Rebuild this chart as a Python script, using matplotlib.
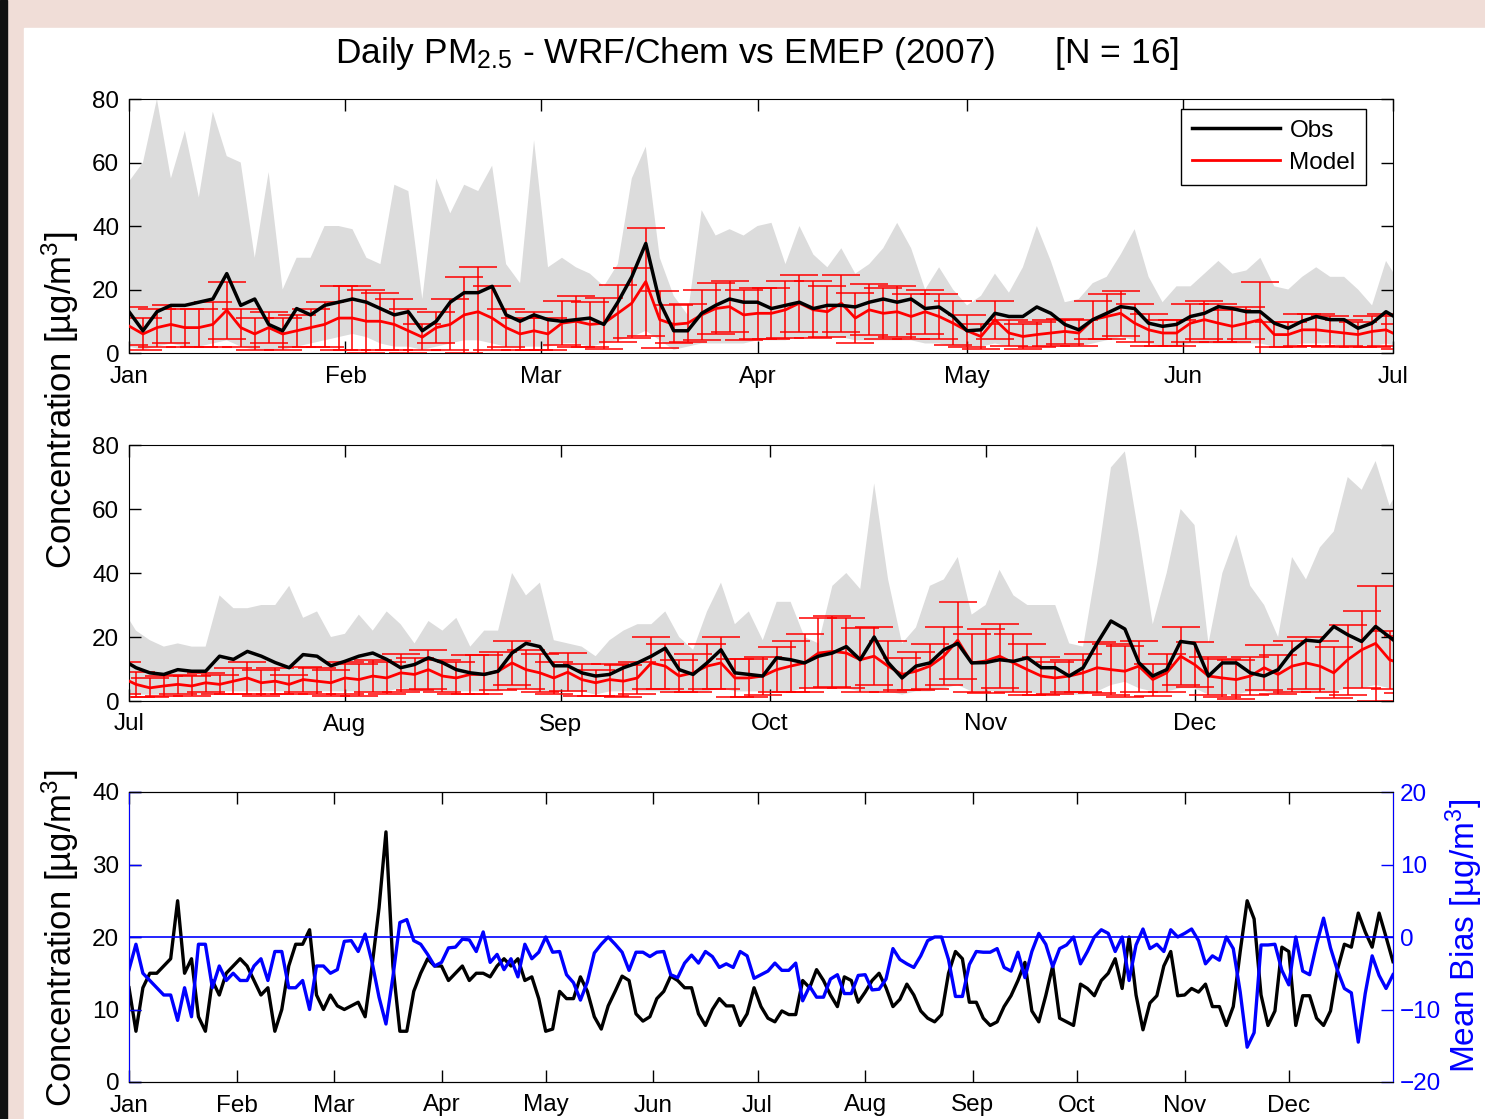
"""
Daily PM2.5 - WRF/Chem vs EMEP (2007), N = 16 stations.
Two half-year panels (obs, model +/- sd, station range) and a bias panel.
"""

import numpy as np
import matplotlib
matplotlib.use("Agg")
import matplotlib.pyplot as plt
from matplotlib.patches import Rectangle

plt.rcParams['font.family'] = ['Liberation Sans', 'DejaVu Sans']
plt.rcParams['mathtext.fontset'] = 'custom'
plt.rcParams['mathtext.rm'] = 'Liberation Sans'
plt.rcParams['mathtext.it'] = 'Liberation Sans:italic'
plt.rcParams['mathtext.bf'] = 'Liberation Sans:bold'


# ── Data (every second day of 2007) ──────────────────────────────────────────

day = np.arange(0, 365, 2)          # day of year, 0 = 1 Jan

obs = np.array([
    # Jan-Feb
    13, 7, 13, 15, 15, 16, 17, 25, 15, 17,
    9, 7, 14, 12, 15, 16, 17, 16, 14, 12,
    13, 7, 10, 16, 19, 19, 21, 12, 10, 12,
    # Mar-Apr
    10.5, 10, 10.5, 11, 9, 16, 24, 34.5, 16, 7,
    7, 12.5, 15, 17, 16, 16, 14, 15, 16, 14,
    15, 15, 14.5, 16, 17, 16, 17, 14, 14.5, 11.5,
    7,
    # May-Jun
    7.3, 12.5, 11.5, 11.5, 14.5, 12.5, 9, 7.3, 10.5, 12.5,
    14.6, 14, 9.4, 8.4, 9, 11.5, 12.5, 14.6, 14, 13,
    13, 9.4, 7.8, 10, 11.5, 10.5, 10.5, 7.8, 9.4, 13,
    # Jul-Aug
    10.4, 8.8, 8.3, 9.8, 9.3, 9.3, 14, 13, 15.5, 14,
    12, 10.4, 14.5, 14, 11, 12.4, 14, 15, 13, 10.4,
    11.4, 13.5, 12, 9.8, 8.8, 8.3, 9.3, 15, 18, 17,
    11,
    # Sep-Oct
    11, 8.8, 7.8, 8.3, 10.4, 11.9, 14, 16.5, 9.8, 8.3,
    11.9, 16, 8.8, 8.3, 7.8, 13.5, 12.9, 11.9, 14, 15,
    17, 12.9, 20, 12, 7.2, 10.9, 11.9, 16, 18, 11.9,
    12,
    # Nov-Dec
    12.9, 12.4, 13.5, 10.4, 10.4, 7.8, 10.4, 18, 25, 22.5,
    12, 7.8, 9.8, 18.6, 18, 7.8, 11.9, 11.9, 8.8, 7.8,
    9.8, 15.5, 19, 18.6, 23.3, 20.7, 18.6, 23.3, 20, 16.6,
])

model = np.array([
    # Jan-Feb
    8.5, 6, 8, 9, 8, 8, 9, 13.5, 8, 6,
    8, 6, 7, 8, 9, 11, 11, 10, 10, 9,
    7, 5, 8, 9, 12, 13, 11, 8, 6, 7,
    # Mar-Apr
    6, 9.4, 10, 9, 9.4, 12.5, 15.7, 22.5, 10.5, 9,
    9.4, 12, 14, 14.6, 12, 12.5, 12.5, 13.6, 15.7, 13.6,
    13, 15.7, 11, 13.6, 12.5, 13, 11.5, 13, 11.5, 9.4,
    7,
    # May-Jun
    5.2, 10.5, 6.3, 5.2, 5.8, 6.3, 6.8, 6.3, 10.5, 11.5,
    12.5, 9.4, 7.3, 6.3, 6.3, 9.4, 10.5, 9.4, 8.4, 9.4,
    10.5, 5.8, 5.8, 7.3, 7.3, 6.8, 6.3, 5.8, 6.8, 7.3,
    # Jul-Aug
    5.2, 4.1, 4.7, 5.2, 4.7, 5.7, 5.2, 6.2, 7.2, 5.7,
    6.2, 5.2, 6.7, 6.2, 5.7, 7.2, 6.7, 7.8, 7.2, 8.8,
    8.3, 9.8, 7.8, 7.2, 8.3, 8.3, 9.3, 11.9, 9.8, 8.8,
    7.2,
    # Sep-Oct
    9, 6.7, 5.7, 6.7, 6.2, 7.2, 11.9, 10.9, 7.8, 8.8,
    10.9, 11.9, 7.2, 7.2, 7.8, 9.8, 10.9, 11.9, 15, 15.5,
    15, 12.9, 14, 10.9, 8.3, 9.3, 10.9, 14, 19, 11.9,
    12.5,
    # Nov-Dec
    14, 11.9, 9.8, 7.8, 7.2, 7.8, 8.8, 10.4, 9.8, 9.3,
    10.9, 6.7, 8.8, 14, 11.4, 7.8, 7.2, 6.7, 7.8, 10.4,
    8.3, 10.9, 11.9, 10.9, 8.8, 12.9, 16, 18, 12.9, 11.4,
])

model_sd = np.array([
    6, 5, 6, 6, 6, 6, 7, 9, 6, 5,
    5, 5, 5, 6, 7, 10, 10, 10, 9, 8,
    7, 4, 5, 8, 12, 14, 10, 6, 5, 6,
    5, 7, 8, 7, 8, 9, 11, 17, 9, 6,
    6, 8, 8, 8, 8, 8, 8, 9, 9, 9,
    8, 9, 8, 8, 8, 8, 7, 7, 7, 7,
    5,
    4, 6, 4, 4, 4, 4, 4, 4, 6, 7,
    7, 6, 5, 4, 4, 6, 6, 6, 5, 5,
    12, 4, 4, 5, 5, 5, 4, 4, 5, 5,
    4, 3, 3, 3, 3, 3, 3, 4, 5, 4,
    4, 3, 4, 4, 4, 5, 5, 5, 5, 6,
    5, 6, 5, 5, 6, 6, 6, 7, 6, 6,
    5,
    6, 5, 4, 5, 5, 5, 8, 7, 5, 6,
    7, 8, 6, 6, 6, 7, 8, 9, 11, 11,
    11, 10, 9, 8, 5, 6, 7, 9, 12, 9,
    10,
    10, 9, 8, 6, 5, 5, 6, 8, 8, 8,
    8, 5, 6, 9, 7, 6, 6, 6, 6, 7,
    6, 8, 8, 8, 8, 11, 12, 18, 9, 9,
])

station_max = np.array([
    54, 60, 80, 55, 70, 49, 76, 62, 60, 30,
    57, 20, 30, 30, 40, 40, 39, 30, 28, 53,
    51, 17, 55, 44, 53, 51, 59, 28, 22, 67,
    27, 30, 27, 25, 21, 28, 55, 65, 30, 18,
    12, 45, 37, 39, 37, 40, 41, 28, 40, 31,
    27, 33, 25, 28, 33, 41, 33, 20, 27, 20,
    15,
    18, 25, 19, 27, 40, 29, 16, 17, 22, 24,
    31, 39, 24, 16, 21, 21, 25, 29, 25, 26,
    30, 21, 20, 24, 27, 24, 24, 20, 15, 29,
    22, 19, 17, 18, 17, 17, 33, 29, 29, 30,
    30, 36, 26, 28, 20, 21, 27, 22, 28, 24,
    18, 25, 22, 26, 17, 22, 22, 40, 33, 37,
    19,
    18, 17, 14, 19, 22, 24, 24, 28, 20, 16,
    28, 37, 24, 28, 19, 31, 31, 20, 18, 36,
    40, 35, 68, 38, 18, 23, 36, 38, 45, 27,
    30,
    41, 33, 30, 30, 30, 18, 17, 43, 73, 78,
    52, 24, 40, 60, 55, 18, 40, 52, 36, 30,
    20, 45, 38, 48, 53, 70, 66, 75, 61, 69,
])

station_min = np.array([
    2, 1, 2, 3, 2, 2, 3, 4, 2, 1,
    1, 1, 2, 3, 4, 5, 6, 5, 3, 2,
    2, 1, 2, 3, 4, 4, 3, 2, 2, 2,
    2, 3, 3, 2, 3, 4, 5, 7, 4, 1,
    2, 3, 3, 3, 3, 4, 4, 4, 5, 5,
    5, 5, 4, 4, 4, 4, 4, 3, 3, 2,
    2,
    2, 3, 2, 2, 2, 2, 2, 2, 3, 4,
    5, 4, 3, 2, 2, 3, 3, 3, 3, 3,
    3, 2, 2, 3, 3, 3, 2, 2, 2, 3,
    2, 2, 2, 2, 2, 2, 3, 3, 3, 3,
    3, 3, 3, 3, 3, 3, 3, 3, 3, 4,
    3, 3, 3, 3, 3, 3, 3, 4, 4, 3,
    3,
    3, 3, 2, 3, 3, 3, 3, 3, 3, 3,
    3, 4, 3, 3, 3, 3, 3, 4, 4, 4,
    4, 3, 3, 3, 2, 3, 3, 4, 5, 3,
    3,
    3, 3, 3, 2, 2, 2, 2, 3, 5, 6,
    4, 3, 3, 4, 4, 2, 2, 2, 3, 3,
    2, 3, 3, 3, 3, 4, 4, 5, 4, 4,
])

month_start = [0, 31, 59, 90, 120, 151, 181, 212, 243, 273, 304, 334]
month_names = ["Jan", "Feb", "Mar", "Apr", "May", "Jun",
               "Jul", "Aug", "Sep", "Oct", "Nov", "Dec"]

bias = model - obs

GREY = "#dcdcdc"
TICK = dict(direction="in", length=8.5, width=1.0, labelsize=17.5)


# ── Figure ────────────────────────────────────────────────────────────────────

fig = plt.figure(figsize=(14.85, 11.19), dpi=100)
fig.patch.set_facecolor("#f0ddd7")
fig.patches.append(Rectangle((24 / 1485, 0), 1, 1 - 28 / 1119,
                             transform=fig.transFigure, color="white", zorder=-2))
fig.patches.append(Rectangle((0, 0), 7 / 1485, 1,
                             transform=fig.transFigure, color="#111111", zorder=-1))

L, W = 129 / 1485, 1264 / 1485


def half_year(ax, x0, x1, ticks, labels, legend=False):
    ax.fill_between(day, station_min, station_max, color=GREY, lw=0, zorder=1)
    ax.errorbar(day, model, yerr=model_sd, fmt="none", ecolor="red",
                elinewidth=1.1, capsize=14, capthick=1.1, zorder=2)
    l_obs, = ax.plot(day, obs, color="black", lw=2.5, zorder=4, label="Obs")
    l_mod, = ax.plot(day, model, color="red", lw=2.0, zorder=3, label="Model")
    ax.set_xlim(x0, x1)
    ax.set_ylim(0, 80)
    ax.set_yticks([0, 20, 40, 60, 80])
    ax.set_xticks(ticks)
    ax.set_xticklabels(labels)
    ax.tick_params(top=True, right=True, **TICK)
    ax.tick_params(axis="x", pad=9)
    ax.tick_params(axis="y", pad=7)
    if legend:
        leg = ax.legend(handles=[l_obs, l_mod], loc="upper right",
                        bbox_to_anchor=(0.979, 0.961), borderaxespad=0,
                        fontsize=17.5, fancybox=False, edgecolor="black",
                        framealpha=1, handlelength=3.6, borderpad=0.45,
                        labelspacing=0.4, handletextpad=0.4)
        leg.get_frame().set_linewidth(1.0)


ax1 = fig.add_axes([L, 1 - 353 / 1119, W, 254 / 1119])
half_year(ax1, 0, 181, month_start[:7], month_names[:7], legend=True)

ax2 = fig.add_axes([L, 1 - 701 / 1119, W, 256 / 1119])
half_year(ax2, 181, 362.5, month_start[6:], month_names[6:])

# bias panel
ax3 = fig.add_axes([L, 1 - 1082 / 1119, W, 290 / 1119])
ax3.plot(day, obs, color="black", lw=2.4)
ax3.set_xlim(0, 364)
ax3.set_ylim(0, 40)
ax3.set_yticks([0, 10, 20, 30, 40])
ax3.set_xticks(month_start)
ax3.set_xticklabels(month_names)
ax3.tick_params(axis="x", top=True, pad=9, **TICK)
ax3.tick_params(axis="y", left=True, right=False, pad=7, **TICK)

ax4 = ax3.twinx()
ax4.plot(day, bias, color="blue", lw=2.4)
ax4.axhline(0, color="blue", lw=1.2)
ax4.set_ylim(-20, 20)
ax4.set_yticks([-20, -10, 0, 10, 20])
ax4.tick_params(axis="y", left=True, right=True, labelleft=False,
                labelright=True, colors="blue", pad=5, **TICK)
for s in ("left", "right"):
    ax4.spines[s].set_color("blue")

# titles / labels
fig.text(757 / 1485, 1 - 63 / 1119,
         r"Daily PM$_{2.5}$ - WRF/Chem vs EMEP (2007)      [N = 16]",
         ha="center", va="baseline", fontsize=25.5)
fig.text(60 / 1485, 1 - 400 / 1119, r"Concentration [µg/m$^3$]",
         rotation=90, ha="center", va="center", fontsize=25)
fig.text(60 / 1485, 1 - 938 / 1119, r"Concentration [µg/m$^3$]",
         rotation=90, ha="center", va="center", fontsize=25)
fig.text(1464 / 1485, 1 - 936 / 1119, r"Mean Bias [µg/m$^3$]", color="blue",
         rotation=90, ha="center", va="center", fontsize=24)

fig.savefig("out.png", dpi=100, facecolor=fig.get_facecolor())
